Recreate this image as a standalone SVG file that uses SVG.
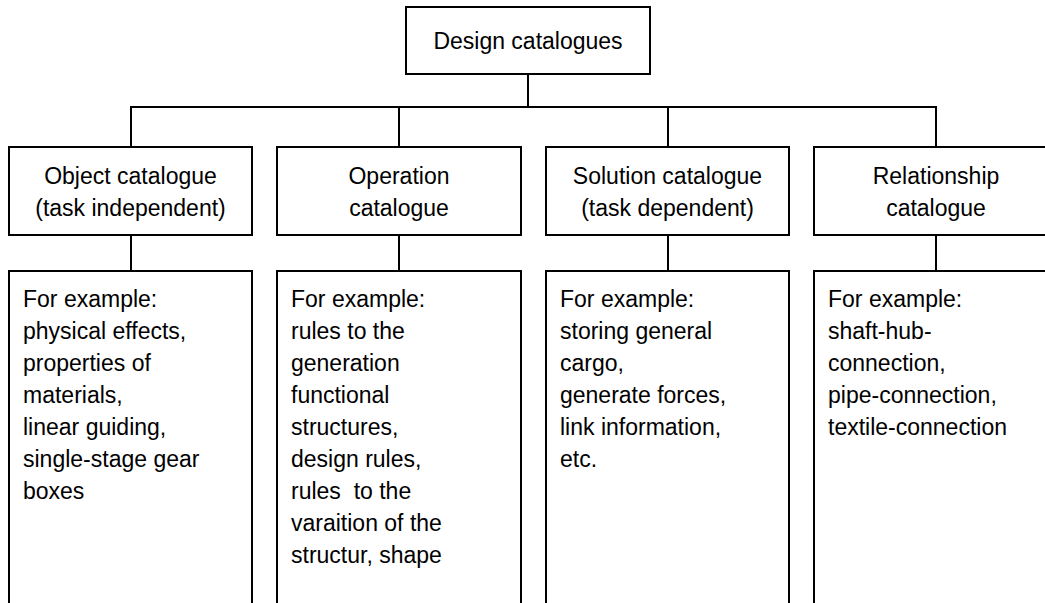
<svg xmlns="http://www.w3.org/2000/svg" width="1045" height="603" viewBox="0 0 1045 603">
<style>
rect{fill:#fff;stroke:#000;stroke-width:2}
text{font-family:"Liberation Sans",Arial,sans-serif;font-size:23px;fill:#000}
.c{text-anchor:middle}
#connectors line{stroke:#000;stroke-width:2}
</style>
<rect x="0" y="0" width="1045" height="603" style="stroke:none"/>
<g id="connectors">
<line x1="528" y1="74" x2="528" y2="107"/>
<line x1="130" y1="107" x2="937" y2="107"/>
<line x1="131" y1="107" x2="131" y2="147"/>
<line x1="399" y1="107" x2="399" y2="147"/>
<line x1="668" y1="107" x2="668" y2="147"/>
<line x1="936" y1="107" x2="936" y2="147"/>
<line x1="131" y1="235" x2="131" y2="271"/>
<line x1="399" y1="235" x2="399" y2="271"/>
<line x1="668" y1="235" x2="668" y2="271"/>
<line x1="936" y1="235" x2="936" y2="271"/>
</g>
<g id="design-catalogues">
<rect x="406" y="7" width="244" height="67"/>
<text class="c" x="528" y="49">Design catalogues</text>
</g>
<g id="object-catalogue">
<rect x="9" y="147" width="243" height="88"/>
<text class="c" x="130.5" y="184">Object catalogue</text>
<text class="c" x="130.5" y="216">(task independent)</text>
</g>
<g id="operation-catalogue">
<rect x="277" y="147" width="244" height="88"/>
<text class="c" x="399" y="184">Operation</text>
<text class="c" x="399" y="216">catalogue</text>
</g>
<g id="solution-catalogue">
<rect x="546" y="147" width="243" height="88"/>
<text class="c" x="667.5" y="184">Solution catalogue</text>
<text class="c" x="667.5" y="216">(task dependent)</text>
</g>
<g id="relationship-catalogue">
<rect x="814" y="147" width="244" height="88"/>
<text class="c" x="936" y="184">Relationship</text>
<text class="c" x="936" y="216">catalogue</text>
</g>
<g id="object-examples">
<rect x="9" y="271" width="243" height="345"/>
<text x="23" y="307">For example:</text>
<text x="23" y="339">physical effects,</text>
<text x="23" y="371">properties of</text>
<text x="23" y="403">materials,</text>
<text x="23" y="435">linear guiding,</text>
<text x="23" y="467">single-stage gear</text>
<text x="23" y="499">boxes</text>
</g>
<g id="operation-examples">
<rect x="277" y="271" width="244" height="345"/>
<text x="291" y="307">For example:</text>
<text x="291" y="339">rules to the</text>
<text x="291" y="371">generation</text>
<text x="291" y="403">functional</text>
<text x="291" y="435">structures,</text>
<text x="291" y="467">design rules,</text>
<text x="291" y="499" style="white-space:pre">rules  to the</text>
<text x="291" y="531">varaition of the</text>
<text x="291" y="563">structur, shape</text>
</g>
<g id="solution-examples">
<rect x="546" y="271" width="243" height="345"/>
<text x="560" y="307">For example:</text>
<text x="560" y="339">storing general</text>
<text x="560" y="371">cargo,</text>
<text x="560" y="403">generate forces,</text>
<text x="560" y="435">link information,</text>
<text x="560" y="467">etc.</text>
</g>
<g id="relationship-examples">
<rect x="814" y="271" width="244" height="345"/>
<text x="828" y="307">For example:</text>
<text x="828" y="339">shaft-hub-</text>
<text x="828" y="371">connection,</text>
<text x="828" y="403">pipe-connection,</text>
<text x="828" y="435">textile-connection</text>
</g>
</svg>
